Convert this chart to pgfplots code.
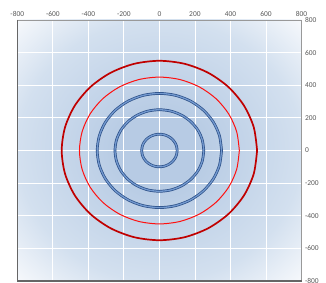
\documentclass[border=0pt]{standalone}
\usepackage{fontspec}
\setmainfont{Carlito}
\usepackage{pgfplots}
\pgfplotsset{compat=1.18}
\definecolor{bgc}{HTML}{B7CBE4}
\definecolor{bge}{HTML}{D3E0EF}
\definecolor{bgw}{HTML}{F7F9FC}
\definecolor{darkred}{HTML}{C00000}
\definecolor{brightred}{HTML}{FF1010}
\definecolor{bdark}{HTML}{2A4E86}
\definecolor{blight}{HTML}{7399CF}
\pgfdeclareradialshading{bgshade}{\pgfpoint{0bp}{0bp}}{color(0bp)=(bgc); color(7bp)=(bgc); color(25bp)=(bge); color(35.5bp)=(bgw); color(50bp)=(bgw)}
\begin{document}
\begin{tikzpicture}
\begin{axis}[
  scale only axis, width=284.2bp, height=261bp,
  xmin=-800, xmax=800, ymin=-800, ymax=800,
  xtick={-800,-600,...,800}, ytick={-800,-600,...,800},
  xticklabel pos=right, yticklabel pos=right,
  grid=major, major grid style={white, line width=0.8bp},
  tick style={draw=none},
  axis line style={draw=black!40, line width=0.9bp},
  ticklabel style={font=\fontsize{7.5}{8}\selectfont, text=black!65},
  /pgf/number format/assume math mode=true,
  axis background/.style={shade, shading=bgshade},
]
% inner blue circle r=100
\addplot[draw=bdark, double=blight, line width=0.7bp, double distance=1.3bp, smooth] coordinates {
(100,0)(96.59,25.88)(86.60,50)(70.71,70.71)(50,86.60)(25.88,96.59)(0,100)
(-25.88,96.59)(-50,86.60)(-70.71,70.71)(-86.60,50)(-96.59,25.88)(-100,0)
(-96.59,-25.88)(-86.60,-50)(-70.71,-70.71)(-50,-86.60)(-25.88,-96.59)(0,-100)
(25.88,-96.59)(50,-86.60)(70.71,-70.71)(86.60,-50)(96.59,-25.88)(100,0)};
% blue circle r=250
\addplot[draw=bdark, double=blight, line width=0.7bp, double distance=1.3bp, smooth] coordinates {
(250,0)(241.5,64.7)(216.5,125)(176.8,176.8)(125,216.5)(64.7,241.5)(0,250)
(-64.7,241.5)(-125,216.5)(-176.8,176.8)(-216.5,125)(-241.5,64.7)(-250,0)
(-241.5,-64.7)(-216.5,-125)(-176.8,-176.8)(-125,-216.5)(-64.7,-241.5)(0,-250)
(64.7,-241.5)(125,-216.5)(176.8,-176.8)(216.5,-125)(241.5,-64.7)(250,0)};
% blue circle r=350
\addplot[draw=bdark, double=blight, line width=0.7bp, double distance=1.3bp, smooth] coordinates {
(350,0)(338.1,90.6)(303.1,175)(247.5,247.5)(175,303.1)(90.6,338.1)(0,350)
(-90.6,338.1)(-175,303.1)(-247.5,247.5)(-303.1,175)(-338.1,90.6)(-350,0)
(-338.1,-90.6)(-303.1,-175)(-247.5,-247.5)(-175,-303.1)(-90.6,-338.1)(0,-350)
(90.6,-338.1)(175,-303.1)(247.5,-247.5)(303.1,-175)(338.1,-90.6)(350,0)};
% thin red circle r=450
\addplot[draw=brightred, line width=1bp, smooth] coordinates {
(450,0)(434.7,116.5)(389.7,225)(318.2,318.2)(225,389.7)(116.5,434.7)(0,450)
(-116.5,434.7)(-225,389.7)(-318.2,318.2)(-389.7,225)(-434.7,116.5)(-450,0)
(-434.7,-116.5)(-389.7,-225)(-318.2,-318.2)(-225,-389.7)(-116.5,-434.7)(0,-450)
(116.5,-434.7)(225,-389.7)(318.2,-318.2)(389.7,-225)(434.7,-116.5)(450,0)};
% thick red circle r=550
\addplot[draw=darkred, line width=1.7bp, smooth] coordinates {
(550,0)(531.3,142.3)(476.3,275)(388.9,388.9)(275,476.3)(142.3,531.3)(0,550)
(-142.3,531.3)(-275,476.3)(-388.9,388.9)(-476.3,275)(-531.3,142.3)(-550,0)
(-531.3,-142.3)(-476.3,-275)(-388.9,-388.9)(-275,-476.3)(-142.3,-531.3)(0,-550)
(142.3,-531.3)(275,-476.3)(388.9,-388.9)(476.3,-275)(531.3,-142.3)(550,0)};
\end{axis}
\draw[black!60, line width=1.6bp] (current axis.north west) -- (current axis.south west) -- (current axis.south east);
\pgfresetboundingbox
\path (current axis.south west) ++(-17.3bp,-1bp) coordinate (bbA);
\path (current axis.north east) ++(24.5bp,20bp) coordinate (bbB);
\useasboundingbox (bbA) rectangle (bbB);
\end{tikzpicture}
\end{document}
